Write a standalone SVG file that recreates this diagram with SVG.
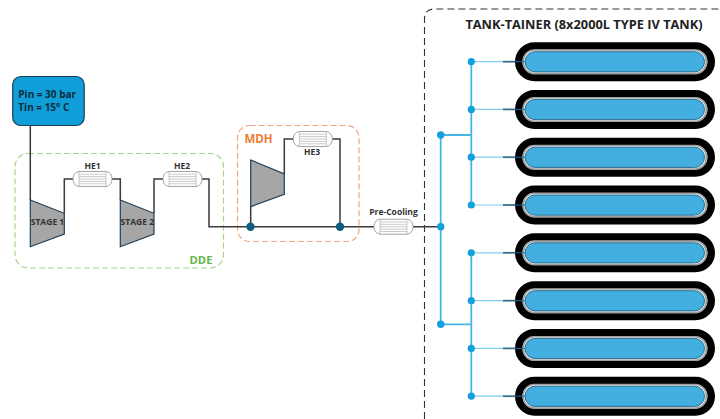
<svg xmlns="http://www.w3.org/2000/svg" xmlns:xlink="http://www.w3.org/1999/xlink" width="720" height="419" viewBox="0 0 720 419">
<style>
text{font-family:"Open Sans","Liberation Sans",sans-serif;font-weight:700}
.pipe{fill:none;stroke:#3a3a3a;stroke-width:1.5}
.blue{fill:none;stroke:#45b4e6;stroke-width:1.800}
.comp{fill:#a6a6a6;stroke:#1f3f57;stroke-width:1.200}
.he{fill:#fff;stroke:#9a9a9a;stroke-width:.9}
.hl{stroke:#a8a8a8;stroke-width:.6;fill:none}
.lbl{font-size:8.500px;fill:#333;text-anchor:middle}
.outer{fill:#fff;stroke:#000;stroke-width:7.500}
.inner{fill:#42afe0;stroke:#1f5f80;stroke-width:.9}
.ring{fill:none;stroke:#a0a0a0;stroke-width:1.600}
.dot{fill:#12a0dc}
.jn{fill:#135a7f}
</style>
<defs>
<g id="hx">
<path class="he" d="M6-7.500H33Q39-6.500 39 0Q39 6.500 33 7.500H6Q0 6.500 0 0Q0-6.500 6-7.500Z"/>
<path class="hl" d="M6-7.500V7.500M33-7.500V7.500M6-4.800H33M6-2.400H33M6 0H33M6 2.400H33M6 4.800H33"/>
</g>
<g id="tank">
<rect class="outer" x="518.750" y="-15.750" width="192.500" height="31.500" rx="15.750"/>
<rect class="ring" x="523.300" y="-11.700" width="183" height="23.600" rx="11"/>
<rect class="inner" x="525" y="-10" width="179.500" height="20.200" rx="10"/>
<path d="M471 0H505" stroke="#7fcdef" stroke-width="1.200"/>
<path d="M503 0H515" stroke="#3c6f8c" stroke-width="1.800"/>
<path d="M515 0H525" stroke="#1f6f93" stroke-width="1"/>
<circle class="dot" cx="471.300" cy="0" r="3.600"/>
</g>
</defs>
<g id="dde">
<rect x="15" y="153.500" width="208.500" height="114.500" rx="13" fill="none" stroke="#a5d58f" stroke-width="1.200" stroke-dasharray="6 3"/>
<text x="201" y="263.500" font-size="11.200" fill="#62b548" text-anchor="middle">DDE</text>
</g>
<g id="mdh">
<rect x="237.500" y="125.500" width="121.500" height="116" rx="12" fill="none" stroke="#f0a67c" stroke-width="1.200" stroke-dasharray="6 3"/>
<text x="258.500" y="142.500" font-size="11.500" fill="#ed7d31" text-anchor="middle">MDH</text>
</g>
<g id="tank-tainer">
<path d="M424.500 419V19Q424.500 9 434.500 9H720" fill="none" stroke="#333" stroke-width="1.100" stroke-dasharray="7 4"/>
<text x="584" y="28.500" font-size="12.800" fill="#222" text-anchor="middle">TANK-TAINER (8x2000L TYPE IV TANK)</text>
</g>
<g id="connectors">
<path class="pipe" d="M30.300 125V200M64.300 213V179H73M112 179H120.300V200M154 213V179H163M201 179H209V226.700H374M413 226.700H441M250.700 206.700V226.700M284.300 174V139H293.300M331.700 139H340V226.700"/>
<path class="blue" d="M471.300 61.700V205M471.300 252.800V396.200M440.700 135V324.300M440.700 135H471.300M440.700 324.300H471.300"/>
</g>
<g id="source">
<rect x="12.700" y="76.500" width="71.500" height="49" rx="8" fill="#0f9ed8" stroke="#1f3f57" stroke-width="1.200"/>
<text x="18.300" y="97.700" font-size="10" fill="#102a3a">Pin = 30 bar</text>
<text x="18.300" y="111" font-size="10" fill="#102a3a">Tin = 15° C</text>
</g>
<g id="stage1"><path class="comp" d="M30.300 200L64.300 213.300V234L30.300 246.700Z"/><text class="lbl" x="47.500" y="225">STAGE 1</text></g>
<g id="stage2"><path class="comp" d="M120.300 200L154 213.300V234L120.300 246.700Z"/><text class="lbl" x="137.300" y="225">STAGE 2</text></g>
<g id="compressor-mdh"><path class="comp" d="M250.700 160L284.300 174V194.300L250.700 206.700Z"/></g>
<g id="he1"><use xlink:href="#hx" href="#hx" x="73" y="179"/><text class="lbl" x="92.500" y="169">HE1</text></g>
<g id="he2"><use xlink:href="#hx" href="#hx" x="163" y="179"/><text class="lbl" x="182" y="169">HE2</text></g>
<g id="he3"><use xlink:href="#hx" href="#hx" x="293.300" y="139"/><text class="lbl" x="312" y="154.500">HE3</text></g>
<g id="pre-cooling"><use xlink:href="#hx" href="#hx" x="374" y="226.700"/><text class="lbl" x="393.500" y="215">Pre-Cooling</text></g>
<g id="junctions">
<circle class="jn" cx="250.500" cy="226.700" r="4.200"/>
<circle class="jn" cx="340" cy="226.700" r="4.200"/>
<circle class="dot" cx="440.700" cy="135" r="3.700"/>
<circle class="dot" cx="440.700" cy="226.700" r="3.700"/>
<circle class="dot" cx="440.700" cy="324.300" r="3.700"/>
</g>
<g id="tank1"><use xlink:href="#tank" href="#tank" y="61.700"/></g>
<g id="tank2"><use xlink:href="#tank" href="#tank" y="109.400"/></g>
<g id="tank3"><use xlink:href="#tank" href="#tank" y="157.200"/></g>
<g id="tank4"><use xlink:href="#tank" href="#tank" y="205"/></g>
<g id="tank5"><use xlink:href="#tank" href="#tank" y="252.800"/></g>
<g id="tank6"><use xlink:href="#tank" href="#tank" y="300.700"/></g>
<g id="tank7"><use xlink:href="#tank" href="#tank" y="348.400"/></g>
<g id="tank8"><use xlink:href="#tank" href="#tank" y="396.200"/></g>
</svg>
